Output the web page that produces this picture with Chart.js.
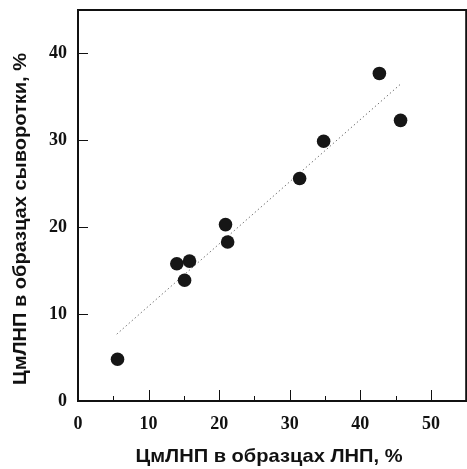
<!DOCTYPE html>
<html>
<head>
<meta charset="utf-8">
<script src="https://cdn.jsdelivr.net/npm/chart.js@4.4.1/dist/chart.umd.min.js"></script>
<style>
  html, body { margin: 0; padding: 0; background: #fff; overflow: hidden; }
  #wrap { width: 467px; height: 469px; overflow: hidden; }
</style>
</head>
<body>
<div id="wrap"><canvas id="myChart" width="473" height="469"></canvas></div>
<script>
// values
const ldlPercent   = [5.6, 14.0, 15.1, 15.8, 20.9, 21.2, 31.4, 34.8, 42.7, 45.7];
const serumPercent = [4.8, 15.8, 13.9, 16.1, 20.3, 18.3, 25.6, 29.9, 37.7, 32.3];
const trendX = [5.5, 45.6];
const trendY = [7.7, 36.4];
const xTickLabels = [0, 10, 20, 30, 40, 50];
const xMinorTicks = [5, 15, 25, 35, 45];
const yTickLabels = [0, 10, 20, 30, 40];
const xTitle = 'ЦмЛНП в образцах ЛНП, %';
const yTitle = 'ЦмЛНП в образцах сыворотки, %';

const frameAndTitles = {
    id: 'frameAndTitles',
    afterDraw(chart) {
        const ctx = chart.ctx;
        const a = chart.chartArea;
        const xs = chart.scales.x, ys = chart.scales.y;
        ctx.save();
        ctx.strokeStyle = '#111';
        // ticks pointing inward
        ctx.lineWidth = 1;
        ctx.beginPath();
        xTickLabels.forEach(v => {
            const px = Math.round(xs.getPixelForValue(v)) + 0.5;
            ctx.moveTo(px, a.bottom); ctx.lineTo(px, a.bottom - 11);
        });
        xMinorTicks.forEach(v => {
            const px = Math.round(xs.getPixelForValue(v)) + 0.5;
            ctx.moveTo(px, a.bottom); ctx.lineTo(px, a.bottom - 5);
        });
        yTickLabels.forEach(v => {
            const py = Math.round(ys.getPixelForValue(v)) + 0.5;
            ctx.moveTo(a.left, py); ctx.lineTo(a.left + 10, py);
        });
        ctx.stroke();
        // box
        ctx.lineWidth = 2;
        ctx.strokeRect(a.left, a.top, a.right - a.left, a.bottom - a.top);

        // axis titles
        ctx.fillStyle = '#111';
        ctx.font = 'bold 19px "Liberation Sans", Arial, sans-serif';
        ctx.textAlign = 'center';
        ctx.textBaseline = 'middle';
        let w = ctx.measureText(xTitle).width;
        ctx.save();
        ctx.translate(269, 457);
        ctx.scale(267 / w, 1);
        ctx.fillText(xTitle, 0, 0);
        ctx.restore();

        w = ctx.measureText(yTitle).width;
        ctx.save();
        ctx.translate(21, 219);
        ctx.rotate(-Math.PI / 2);
        ctx.scale(332 / w, 1);
        ctx.fillText(yTitle, 0, 0);
        ctx.restore();
        ctx.restore();
    }
};

const tickFont = { family: '"Liberation Serif", "Times New Roman", serif', size: 18, weight: 'bold' };

new Chart(document.getElementById('myChart').getContext('2d'), {
    type: 'scatter',
    data: {
        datasets: [
            {
                label: 'samples',
                data: ldlPercent.map((x, i) => ({ x: x, y: serumPercent[i] })),
                pointRadius: 6.8,
                pointHoverRadius: 6.8,
                backgroundColor: '#161616',
                borderWidth: 0
            },
            {
                type: 'line',
                label: 'trend',
                data: trendX.map((x, i) => ({ x: x, y: trendY[i] })),
                borderColor: '#333',
                borderWidth: 1,
                borderDash: [1, 3],
                pointRadius: 0,
                fill: false
            }
        ]
    },
    options: {
        responsive: false,
        animation: false,
        devicePixelRatio: 1,
        layout: { padding: { top: 10, right: 1, left: 0, bottom: 0 } },
        plugins: { legend: { display: false }, tooltip: { enabled: false } },
        scales: {
            x: {
                type: 'linear',
                min: 0, max: 55,
                afterBuildTicks: s => { s.ticks = xTickLabels.map(v => ({ value: v })); },
                afterFit: s => { s.height = 68; s.paddingLeft = 0; s.paddingRight = 0; },
                grid: { display: false },
                border: { display: false },
                ticks: { font: tickFont, color: '#111', padding: 5, maxRotation: 0 }
            },
            y: {
                type: 'linear',
                min: 0, max: 45,
                afterBuildTicks: s => { s.ticks = yTickLabels.map(v => ({ value: v })); },
                afterFit: s => { s.width = 78; s.paddingTop = 0; s.paddingBottom = 0; },
                grid: { display: false },
                border: { display: false },
                ticks: { font: tickFont, color: '#111', padding: 3 }
            }
        }
    },
    plugins: [frameAndTitles]
});
</script>
</body>
</html>
